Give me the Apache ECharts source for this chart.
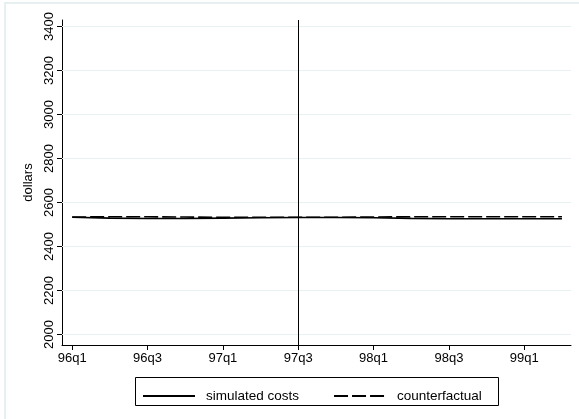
<!DOCTYPE html>
<html>
<head>
<meta charset="utf-8">
<script src="https://cdn.jsdelivr.net/npm/echarts@6/dist/echarts.min.js"></script>
<style>html,body{margin:0;padding:0;background:#fff;}#c{width:579px;height:419px;}</style>
</head>
<body>
<div id="c"></div>
<script>
// quarter index 0 = 96q1
var quarters = ['96q1','96q2','96q3','96q4','97q1','97q2','97q3','97q4','98q1','98q2','98q3','98q4','99q1','99q2'];
var xTickValues = [0,2,4,6,8,10,12];
var xTickLabels = ['96q1','96q3','97q1','97q3','98q1','98q3','99q1'];
var yTickValues = [2000,2200,2400,2600,2800,3000,3200,3400];
var simulatedCosts = [2533,2529,2527,2527,2529,2531,2532,2532,2531,2528,2526,2526,2526,2526];
var counterfactual = [2534,2535,2535,2534,2533,2533,2533,2533,2534,2535,2535,2535,2535,2535];
var breakQuarter = 6; // 97q3

var FONT = 'Liberation Sans';
function pairs(arr){ return arr.map(function(v,i){ return [i, v]; }); }

var chart = echarts.init(document.getElementById('c'), null, {renderer:'canvas'});
chart.setOption({
  animation: false,
  backgroundColor: '#fff',
  textStyle: {fontFamily: FONT, color: '#000'},
  graphic: [
    {type:'rect', shape:{x:5, y:3, width:600, height:450}, style:{fill:'none', stroke:'#e6f0f0', lineWidth:2}, silent:true, z:-1},
    {type:'rect', shape:{x:135.5, y:377.5, width:363, height:28}, style:{fill:'none', stroke:'#000', lineWidth:1}, silent:true}
  ],
  grid: {left: 62, right: 8, top: 20, bottom: 74, containLabel: false},
  xAxis: {
    type: 'value', min: -0.27, max: 13.24,
    axisLine: {show:true, onZero:false, lineStyle:{color:'#000', width:1}},
    axisTick: {show:true, length:5, customValues: xTickValues, lineStyle:{color:'#000'}},
    axisLabel: {show:true, customValues: xTickValues, margin:7, fontSize:13, color:'#000', fontFamily: FONT,
      formatter: function(v){ var k = xTickValues.indexOf(Math.round(v)); return k>=0 ? xTickLabels[k] : ''; }},
    splitLine: {show:false}
  },
  yAxis: {
    type: 'value', min: 1952, max: 3430,
    name: 'dollars', nameLocation: 'middle', nameGap: 25, nameRotate: 90,
    nameTextStyle: {fontSize:13, color:'#000', fontFamily: FONT},
    axisLine: {show:true, onZero:false, lineStyle:{color:'#000', width:1}},
    axisTick: {show:true, length:5, customValues: yTickValues, lineStyle:{color:'#000'}},
    axisLabel: {show:true, customValues: yTickValues, rotate: 90, margin:6, fontSize:13, color:'#000', fontFamily: FONT,
      formatter: function(v){ return String(Math.round(v)); }},
    splitLine: {show:false}
  },
  legend: {
    show: true, left: 137, top: 384, orient: 'horizontal',
    itemWidth: 52, itemHeight: 14, itemGap: 34,
    itemStyle: {color:'rgba(0,0,0,0)', borderWidth:0, opacity:0},
    textStyle: {fontSize:13.5, color:'#000', fontFamily: FONT, padding:[0,0,0,6]},
    data: ['simulated costs','counterfactual']
  },
  series: [
    {
      name: 'grid', type: 'line', data: [], silent: true,
      markLine: {symbol:['none','none'], silent:true, label:{show:false},
        lineStyle:{color:'#e8f1f1', width:1, type:'solid'},
        data: yTickValues.map(function(v){ return {yAxis: v}; })},
      z: 0
    },
    {
      name: 'simulated costs', type: 'line', data: pairs(simulatedCosts),
      showSymbol: false, symbol: 'none',
      lineStyle: {color:'#000', width:1.6, type:'solid'},
      itemStyle: {color:'#000'},
      markLine: {symbol:['none','none'], silent:true, label:{show:false},
        lineStyle:{color:'#000', width:1, type:'solid'},
        data: [{xAxis: breakQuarter}]},
      z: 3
    },
    {
      name: 'counterfactual', type: 'line', data: pairs(counterfactual),
      showSymbol: false, symbol: 'none',
      lineStyle: {color:'#000', width:1.6, type:[14,4]},
      itemStyle: {color:'#000'},
      z: 2
    }
  ]
});
</script>
</body>
</html>
